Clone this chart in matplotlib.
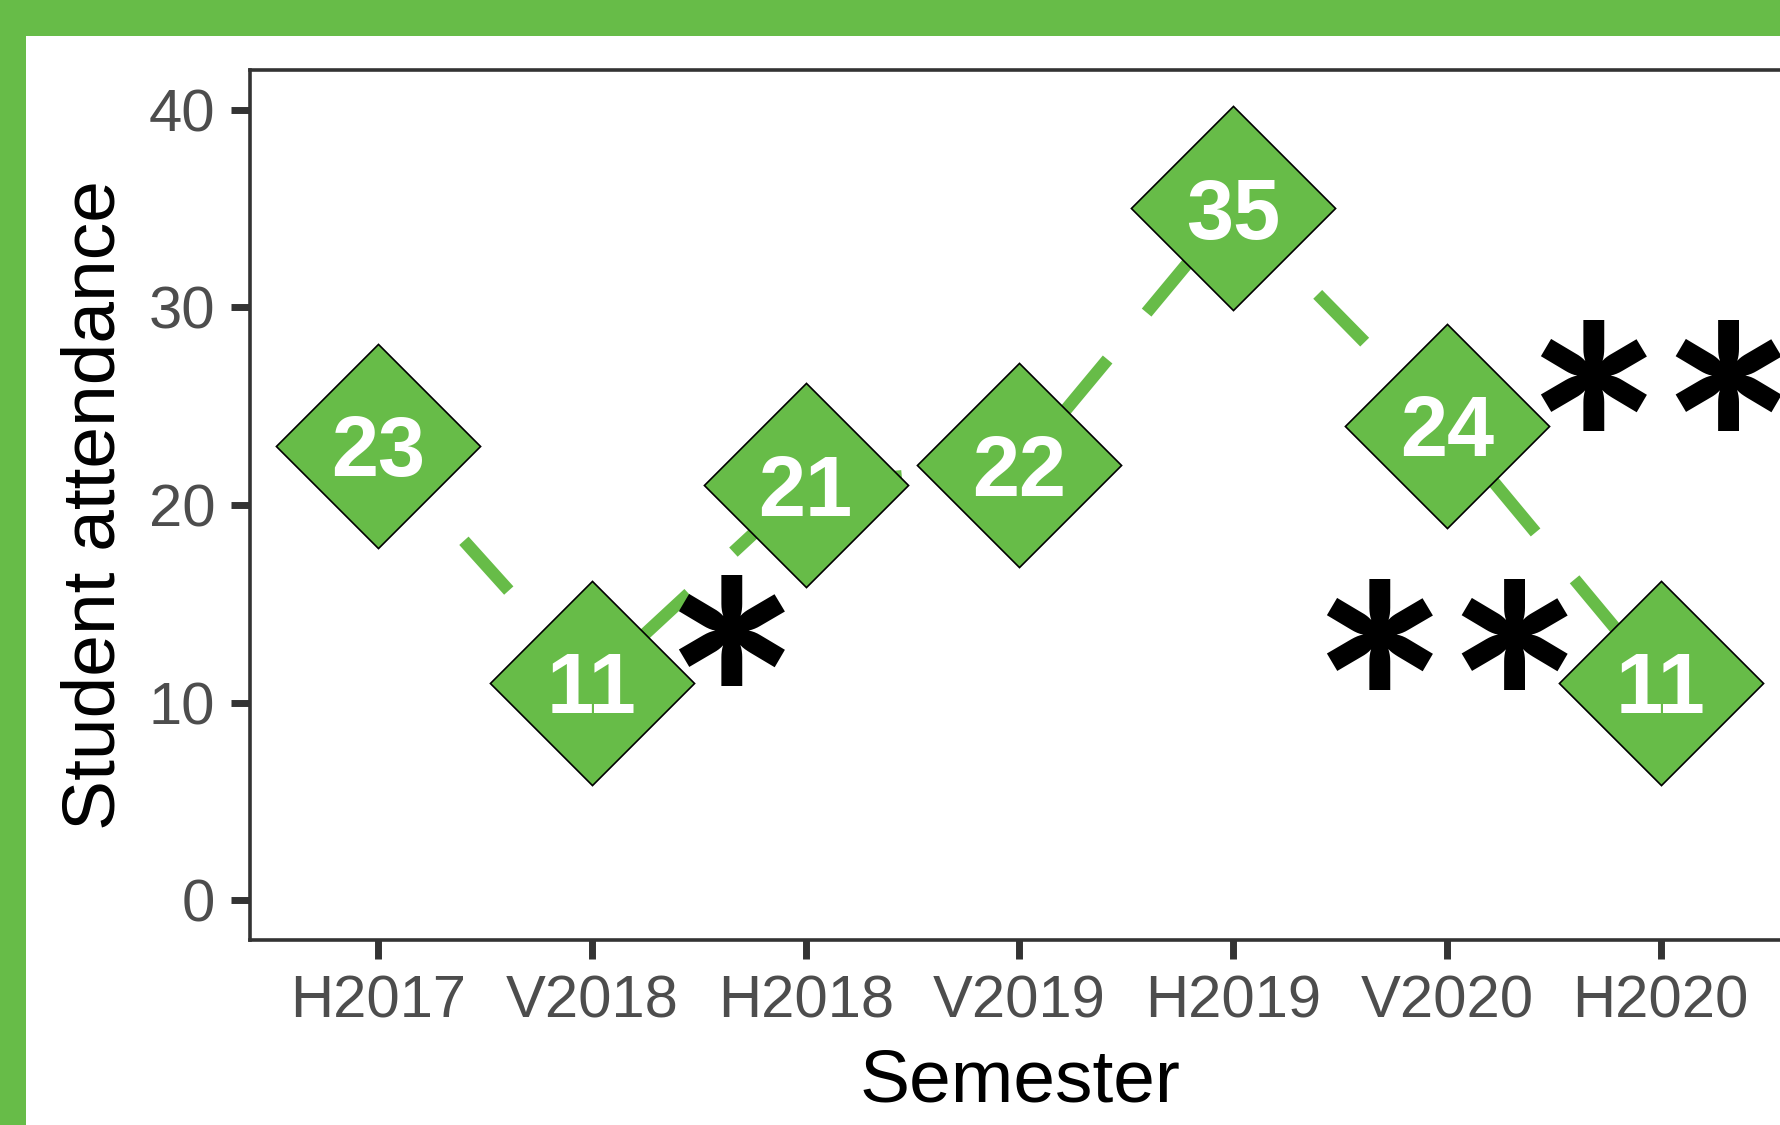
import matplotlib
matplotlib.use("Agg")
import matplotlib.pyplot as plt
from matplotlib.patches import Rectangle

semesters = ["H2017", "V2018", "H2018", "V2019", "H2019", "V2020", "H2020"]
attendance = [23, 11, 21, 22, 35, 24, 11]
sig_labels = ["*", "**", "**"]
sig_x = [2.65, 6.0, 7.0]
sig_y = [13.6, 13.4, 26.5]
y_ticks = [0, 10, 20, 30, 40]

GREEN = "#67BC48"
W, H, DPI = 17.81, 11.25, 100
fig = plt.figure(figsize=(W, H), dpi=DPI, facecolor="white")

# green frame (top and left bands)
fig.patches.append(Rectangle((0, 1 - 36 / 1125), 1, 36 / 1125, transform=fig.transFigure,
                             facecolor=GREEN, edgecolor="none", zorder=0))
fig.patches.append(Rectangle((0, 0), 26 / 1781, 1, transform=fig.transFigure,
                             facecolor=GREEN, edgecolor="none", zorder=0))

ax = fig.add_axes([250 / 1781, 185 / 1125, (1789 - 250) / 1781, (940 - 70) / 1125])
x = list(range(1, len(semesters) + 1))

lw = 9.0
ax.plot(x, attendance, color=GREEN, linewidth=lw, linestyle=(0, (5.36, 4.88)),
        solid_capstyle="butt", dash_capstyle="butt", zorder=1)
ax.plot(x, attendance, linestyle="none", marker=(4, 0, 0), markersize=147,
        markerfacecolor=GREEN, markeredgecolor="black", markeredgewidth=1.2, zorder=2)
lab_fs = 61
for xi, yi in zip(x, attendance):
    ax.annotate(str(yi), (xi, yi), xytext=(0, -0.358 * lab_fs), textcoords="offset points",
                color="white", fontsize=lab_fs, fontweight="bold",
                family="Liberation Sans", ha="center", va="baseline", zorder=3)

sig_fs = 230
for lab, sx, sy in zip(sig_labels, sig_x, sig_y):
    ax.annotate(lab, (sx, sy), xytext=(0, -0.585 * sig_fs), textcoords="offset points",
                color="black", fontsize=sig_fs, fontweight="black",
                family="Lato", ha="center", va="baseline", zorder=4,
                annotation_clip=False)

ax.set_xlim(0.4, 7.6)
ax.set_ylim(-2, 42)
ax.set_xticks(x)
ax.set_xticklabels(semesters)
ax.set_yticks(y_ticks)
for lbl in ax.get_xticklabels() + ax.get_yticklabels():
    lbl.set_family("Liberation Sans")
    lbl.set_fontsize(43)
    lbl.set_color("#4D4D4D")
ax.tick_params(axis="both", length=14, width=5, color="#333333", pad=11)
for s in ax.spines.values():
    s.set_linewidth(2.6)
    s.set_color("#333333")
ax.set_xlabel("Semester", fontsize=54, family="Liberation Sans", color="black", labelpad=13)
ax.set_ylabel("Student attendance", fontsize=54, family="Liberation Sans", color="black", labelpad=14)

fig.savefig("out.png", dpi=DPI)
